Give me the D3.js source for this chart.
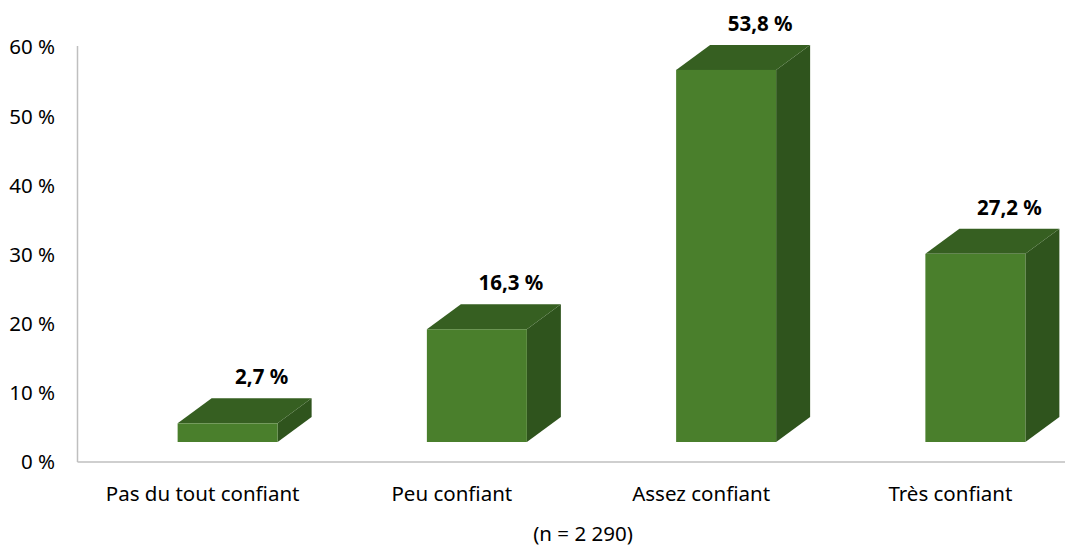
<!DOCTYPE html>
<html><head><meta charset="utf-8">
<script src="https://cdn.jsdelivr.net/npm/d3@7"></script>
<style>html,body{margin:0;padding:0;background:#fff;}svg{display:block;font-family:"Noto Sans","Open Sans",sans-serif;}</style>
</head><body>
<script>
const categories = ["Pas du tout confiant", "Peu confiant", "Assez confiant", "Très confiant"];
const values = [2.7, 16.3, 53.8, 27.2];
const valueLabels = ["2,7 %", "16,3 %", "53,8 %", "27,2 %"];
const yTicks = [0, 10, 20, 30, 40, 50, 60];
const yTickLabels = ["0 %", "10 %", "20 %", "30 %", "40 %", "50 %", "60 %"];
const note = "(n = 2 290)";

const W = 1065, H = 550;
const FS = 20.5;
const svg = d3.select("body").append("svg").attr("width", W).attr("height", H);

const x = d3.scaleBand().domain(categories).range([78, 1075]);
const y = d3.scaleLinear().domain([0, 60]).range([462, 47]);
const dx = 34, dy = 25, floorShift = 20, barW = 100, barShift = 25;

// axes lines
svg.append("line").attr("x1", 77.5).attr("x2", 77.5).attr("y1", y(60) - 1).attr("y2", y(0))
  .attr("stroke", "#bfbfbf").attr("stroke-width", 1.5);
svg.append("line").attr("x1", 77.5).attr("x2", W).attr("y1", y(0)).attr("y2", y(0))
  .attr("stroke", "#bfbfbf").attr("stroke-width", 1.5);

// y tick labels
svg.selectAll(".yt").data(yTicks).join("text")
  .attr("x", 55).attr("y", d => y(d)).attr("dy", "0.36em")
  .attr("text-anchor", "end").attr("font-size", FS).attr("fill", "#000")
  .text((d, i) => yTickLabels[i]);

// bars
const g = svg.selectAll(".bar").data(categories).join("g");
g.each(function(c, i) {
  const sel = d3.select(this);
  const cx = x(c) + x.bandwidth() / 2 + barShift;
  const x0 = cx - barW / 2, x1 = cx + barW / 2;
  const yb = y(0) - floorShift;
  const yt = y(values[i]) - floorShift;
  sel.append("polygon").attr("points", [[x1, yt], [x1 + dx, yt - dy], [x1 + dx, yb - dy], [x1, yb]].join(" "))
    .attr("fill", "#2f541d");
  sel.append("polygon").attr("points", [[x0, yt], [x0 + dx, yt - dy], [x1 + dx, yt - dy], [x1, yt]].join(" "))
    .attr("fill", "#365f21");
  sel.append("rect").attr("x", x0).attr("y", yt).attr("width", barW).attr("height", yb - yt)
    .attr("fill", "#4a7f2c");
  sel.append("text").attr("x", cx + dx).attr("y", yt - dy - 14)
    .attr("text-anchor", "middle").attr("font-size", FS).attr("font-weight", "bold")
    .attr("fill", "#000").text(valueLabels[i]);
});

// category labels
svg.selectAll(".xl").data(categories).join("text")
  .attr("x", d => x(d) + x.bandwidth() / 2).attr("y", 501)
  .attr("text-anchor", "middle").attr("font-size", FS).attr("fill", "#000")
  .text(d => d);

svg.append("text").attr("x", 583).attr("y", 541).attr("text-anchor", "middle")
  .attr("font-size", FS).attr("fill", "#000").text(note);
</script>
</body></html>
